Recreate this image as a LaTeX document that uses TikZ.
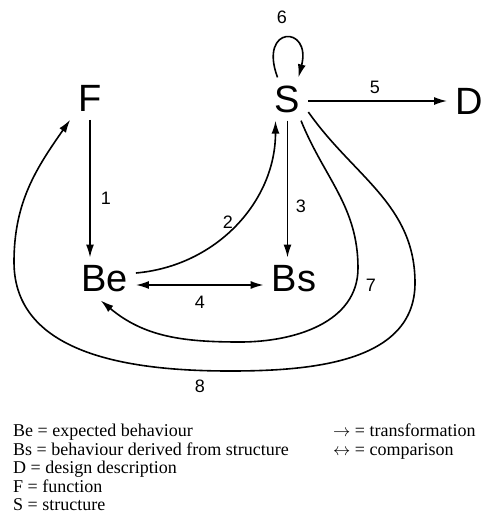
\documentclass[tikz,border=0pt]{standalone}
\usepackage{fontspec}
\setmainfont{Liberation Serif}
\setsansfont{Liberation Sans}
\usetikzlibrary{arrows.meta}

\begin{document}
\begin{tikzpicture}[x=1pt,y=-1pt,
        letter/.style={font=\sffamily\fontsize{38}{38}\selectfont, inner sep=8pt},
        num/.style={font=\sffamily\fontsize{18}{18}\selectfont, inner sep=1pt},
        trans/.style={line width=1.6pt, -{Latex[length=13pt,width=8pt]}},
        comp/.style={line width=1.6pt, {Latex[length=13pt,width=8pt]}-{Latex[length=13pt,width=8pt]}},
        key/.style={font=\fontsize{18}{18.5}\selectfont, align=left, anchor=north west, inner sep=0pt}]
        \useasboundingbox (0,0) rectangle (483,515);

        % the five states
        \node[letter] (F) at (90,98.5) {F};
        \node[letter] (S) at (287.5,99) {S};
        \node[letter] (D) at (469,101) {D};
        \node[letter] (Be) at (104.5,279) {Be};
        \node[letter] (Bs) at (294,279) {Bs};

        % straight steps
        \draw[trans] (F.south) -- (F.south |- Be.north);
        \draw[trans] (S.south) -- (S.south |- Bs.north);
        \draw[trans] ([yshift=-2pt]S.east) -- ([yshift=-2pt]S.east -| D.west);
        \draw[comp] ([yshift=-6pt]Be.east) -- ([yshift=-6pt]Bs.west);

        % curved steps
        \draw[trans] ([yshift=6pt]Be.east) to[out=5,in=-90] ([xshift=-12pt]S.south);
        \draw[trans] ([xshift=-10pt]S.north) .. controls (258,25) and (312,25) .. ([xshift=11pt]S.north);
        \draw[trans] (S.-58) to[out=-68,in=90] (358,268) to[out=-90,in=0] (240,342) to[out=180,in=-40] (Be.-100);
        \draw[trans] (S.-32) to[out=-55,in=90] (415,283) to[out=-90,in=0] (230,371)
                to[out=180,in=-90] (14,262) to[out=90,in=-125] (F.south west);

        % numbers
        \node[num] (l1) at (106,198) {1};
        \node[num] (l2) at (228,222) {2};
        \node[num] (l3) at (301,206) {3};
        \node[num] (l4) at (200,302) {4};
        \node[num] (l5) at (375,87) {5};
        \node[num] (l6) at (282,17) {6};
        \node[num] (l7) at (371,285) {7};
        \node[num] (l8) at (200,386) {8};

        % key
        \node[key] (names) at (13,424) {Be = expected behaviour\\
                Bs = behaviour derived from structure\\
                D = design description\\
                F = function\\
                S = structure};
        \node[key] (kinds) at (333,424) {$\rightarrow$ = transformation\\
                $\leftrightarrow$ = comparison};
\end{tikzpicture}
\end{document}
